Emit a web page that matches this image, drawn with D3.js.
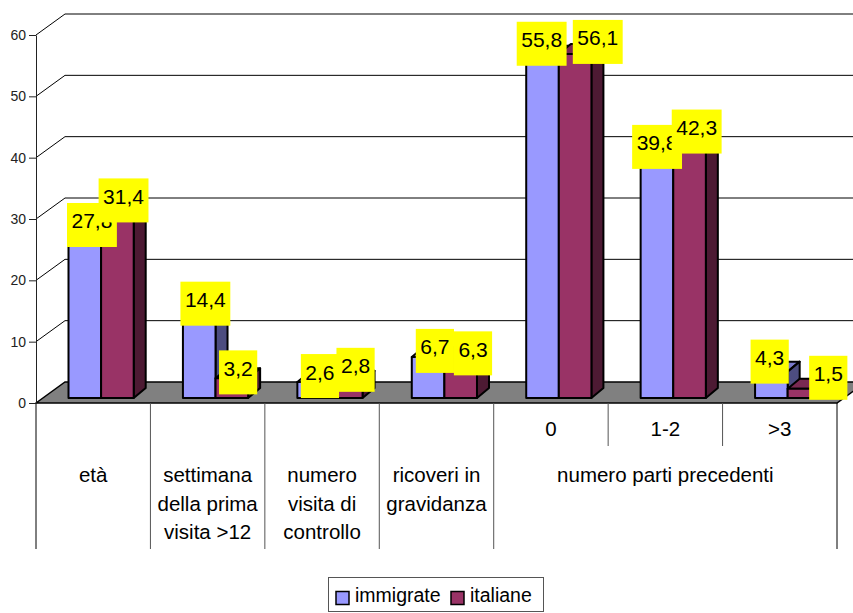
<!DOCTYPE html>
<html>
<head>
<meta charset="utf-8">
<script src="https://cdn.jsdelivr.net/npm/d3@7"></script>
<style>
html,body{margin:0;padding:0;background:#fff;overflow:hidden;}
svg{display:block;}
text{font-family:"Liberation Sans",Arial,sans-serif;fill:#000;}
</style>
</head>
<body>
<div id="chart"></div>
<script>
// data
var categories = ["età","settimana","numero visita","ricoveri","0","1-2",">3"];
var seriesNames = ["immigrate","italiane"];
var immigrate = [27.8,14.4,2.6,6.7,55.8,39.8,4.3];
var italiane = [31.4,3.2,2.8,6.3,56.1,42.3,1.5];
var immigrateLabels = ["27,8","14,4","2,6","6,7","55,8","39,8","4,3"];
var italianeLabels = ["31,4","3,2","2,8","6,3","56,1","42,3","1,5"];
var yTicks = [0,10,20,30,40,50,60];
var lowerLabels = [
  {from:"età",to:"età",lines:["età"]},
  {from:"settimana",to:"settimana",lines:["settimana","della prima","visita >12"]},
  {from:"numero visita",to:"numero visita",lines:["numero","visita di","controllo"]},
  {from:"ricoveri",to:"ricoveri",lines:["ricoveri in","gravidanza"]},
  {from:"0",to:">3",lines:["numero parti precedenti"]}
];

var w = 853, h = 613;
var x0 = 36, x1 = 837, yBase = 403, yTop = 35;
var depthX = 29, depthY = 21;       // 3d depth of the chart box
var barDepthX = 12, barDepthY = 10; // 3d depth of one bar
var barLift = 5;                    // bars stand a little back on the floor
var svgChart, xScale, xInner, yScale;

// where the yellow boxes were dragged to, from the bar's top left corner
var nudgeX = [[-1.5,-2.5,3.5,4,-9.5,-8.5,-4.5],[-2.5,3.5,6.5,9.5,14,-1.5,21.5]];
var nudgeY = [[-24.5,-28,-28,-28,-34,-29,-32],[-27,-28,-33,-28,-34,-29,-33]];

var colors = {
  immigrate:{front:"#9999ff",side:"#4d4d80",top:"#7a7acc"},
  italiane:{front:"#993366",side:"#4d1a33",top:"#7a2952"}
};

function setScales(){
  xScale = d3.scaleBand().domain(categories).range([x0,x1]);
  xInner = d3.scaleBand().domain(seriesNames).range([32.5,97.7]);
  yScale = d3.scaleLinear().domain([0,60]).range([yBase,yTop]);
}

function drawWalls(){
  var g = svgChart.append("g");
  yTicks.slice(1).forEach(function(t){
    var y = yScale(t);
    g.append("path")
      .attr("d","M"+x0+","+y+"L"+(x0+depthX)+","+(y-depthY)+"H"+(w+5))
      .attr("fill","none")
      .attr("stroke","#000")
      .attr("stroke-width",1);
  });
  // floor
  g.append("path")
    .attr("d","M"+x0+","+yBase+"L"+(x0+depthX)+","+(yBase-depthY)+"H"+(x1+depthX)+"L"+x1+","+yBase+"Z")
    .attr("fill","#808080")
    .attr("stroke","#000")
    .attr("stroke-width",1.5);
}

function drawAxis(){
  var axis = d3.axisLeft(yScale).tickValues(yTicks).tickSize(7).tickPadding(3).tickSizeOuter(0);
  var g = svgChart.append("g")
    .attr("transform","translate("+x0+",0)")
    .call(axis);
  g.selectAll("text").style("font-size","14px").style("fill","#222");
  g.selectAll("line,path").attr("stroke","#222");
}

function drawBar(cat,i,name,k){
  var v = (k===0 ? immigrate : italiane)[i];
  var c = colors[name];
  var bx = xScale(cat)+xInner(name);
  var bw = xInner.bandwidth();
  var by = yScale(v)-barLift;
  var b0 = yScale(0)-barLift;
  var g = svgChart.append("g")
    .attr("stroke","#000")
    .attr("stroke-width",2)
    .attr("stroke-linejoin","round");
  g.append("path")
    .attr("fill",c.top)
    .attr("d","M"+bx+","+by+"l"+barDepthX+","+(-barDepthY)+"h"+bw+"l"+(-barDepthX)+","+barDepthY+"Z");
  g.append("path")
    .attr("fill",c.side)
    .attr("d","M"+(bx+bw)+","+by+"l"+barDepthX+","+(-barDepthY)+"V"+(b0-barDepthY)+"l"+(-barDepthX)+","+barDepthY+"Z");
  g.append("rect")
    .attr("x",bx).attr("y",by)
    .attr("width",bw).attr("height",b0-by)
    .attr("fill",c.front);
}

function drawBars(){
  categories.forEach(function(cat,i){
    seriesNames.forEach(function(name,k){
      drawBar(cat,i,name,k);
    });
  });
}

function drawValueLabels(){
  seriesNames.forEach(function(name,k){
    var vals = k===0 ? immigrate : italiane;
    var labs = k===0 ? immigrateLabels : italianeLabels;
    categories.forEach(function(cat,i){
      var lx = xScale(cat)+xInner(name)+nudgeX[k][i];
      var ly = yScale(vals[i])-barLift+nudgeY[k][i];
      var g = svgChart.append("g");
      var r = g.append("rect").attr("fill","#ffff00").attr("x",lx).attr("y",ly).attr("height",44);
      var t = g.append("text")
        .attr("x",lx+4.5)
        .attr("y",ly+25.5)
        .style("font-size","21px")
        .text(labs[i]);
      r.attr("width",t.node().getComputedTextLength()+9);
    });
  });
}

function drawLowerAxis(){
  var g = svgChart.append("g");
  var yEnd = 549, yShort = 446;
  var edges = [x0];
  categories.forEach(function(c){ edges.push(xScale(c)+xScale.bandwidth()); });
  edges.forEach(function(ex,i){
    var isShort = i===5 || i===6;
    var isEnd = i===0 || i===edges.length-1;
    g.append("line")
      .attr("x1",ex).attr("x2",ex)
      .attr("y1",yBase).attr("y2",isShort ? yShort : yEnd)
      .attr("stroke",isEnd ? "#000" : "#555")
      .attr("stroke-width",1);
  });
  categories.slice(4).forEach(function(c){
    g.append("text")
      .attr("x",xScale(c)+xScale.bandwidth()/2)
      .attr("y",435.5)
      .attr("text-anchor","middle")
      .style("font-size","20.5px")
      .text(c);
  });
  lowerLabels.forEach(function(d){
    var cx = (xScale(d.from)+xScale(d.to)+xScale.bandwidth())/2;
    d.lines.forEach(function(s,j){
      g.append("text")
        .attr("x",cx)
        .attr("y",482+j*28.7)
        .attr("text-anchor","middle")
        .style("font-size","20.5px")
        .text(s);
    });
  });
}

function drawLegend(){
  var g = svgChart.append("g");
  g.append("rect")
    .attr("x",328.5).attr("y",577.5)
    .attr("width",215).attr("height",34)
    .attr("fill","#fff").attr("stroke","#555");
  var sx = [336,451], tx = [355,470];
  seriesNames.forEach(function(name,k){
    g.append("rect")
      .attr("x",sx[k]).attr("y",591.5)
      .attr("width",13).attr("height",13)
      .attr("fill",colors[name].front)
      .attr("stroke","#000")
      .attr("stroke-width",1.5);
    g.append("text")
      .attr("x",tx[k]).attr("y",602)
      .style("font-size","19.5px")
      .text(name);
  });
}

function runTool(){
  setScales();
  svgChart = d3.select("#chart").append("svg").attr("width",w).attr("height",h);
  drawWalls();
  drawLowerAxis();
  drawAxis();
  drawBars();
  drawValueLabels();
  drawLegend();
}
runTool();
</script>
</body>
</html>
